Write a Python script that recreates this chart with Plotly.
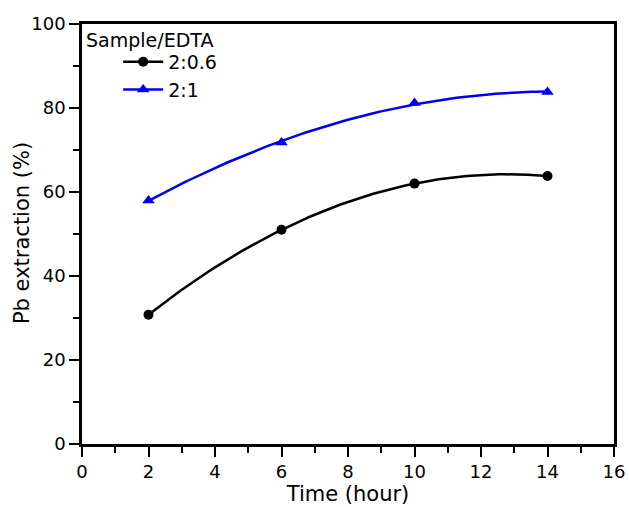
import numpy as np
import plotly.graph_objects as go

time_h = [2, 6, 10, 14]
pb_06 = [30.8, 51.0, 62.0, 63.8]
pb_1 = [58.0, 71.8, 81.2, 83.8]
series_names = ["2:0.6", "2:1"]
legend_title = "Sample/EDTA"
x_title = "Time (hour)"
y_title = "Pb extraction (%)"

FONT = "DejaVu Sans, Verdana, sans-serif"
fig = go.Figure()

xf = np.linspace(min(time_h), max(time_h), 100)
for ys, name, color, sym, msize in [
    (pb_06, series_names[0], "black", "circle", 10),
    (pb_1, series_names[1], "#0000ee", "triangle-up", 11),
]:
    coef = np.polyfit(time_h, ys, 2)
    fig.add_trace(go.Scatter(x=xf, y=np.polyval(coef, xf), mode="lines",
                             line=dict(color=color, width=2.5), showlegend=False,
                             hoverinfo="skip"))
    fig.add_trace(go.Scatter(x=time_h, y=ys, mode="markers",
                             marker=dict(color=color, symbol=sym, size=msize),
                             showlegend=False))
    fig.add_trace(go.Scatter(x=[None], y=[None], mode="lines+markers", name=name,
                             line=dict(color=color, width=2.5),
                             marker=dict(color=color, symbol=sym, size=msize)))

axis_common = dict(showline=True, linecolor="black", linewidth=2.5, mirror=True,
                   ticks="outside", ticklen=10, tickwidth=2, tickcolor="black",
                   showgrid=False, zeroline=False, automargin=False,
                   tickfont=dict(family=FONT, size=18, color="black"))

fig.update_xaxes(range=[0, 16], dtick=2, tick0=0,
                 minor=dict(ticks="outside", ticklen=6, tickwidth=2, dtick=1, tickcolor="black"),
                 title=dict(text=x_title, font=dict(family=FONT, size=21, color="black"), standoff=3),
                 **axis_common)
fig.update_yaxes(range=[0, 100], dtick=20, tick0=0,
                 minor=dict(ticks="outside", ticklen=6, tickwidth=2, dtick=10, tickcolor="black"),
                 **axis_common)

fig.add_annotation(text=y_title, xref="paper", yref="paper", x=-0.113, y=0.502,
                   xanchor="center", yanchor="middle", textangle=-90, showarrow=False,
                   font=dict(family=FONT, size=21, color="black"))

fig.add_annotation(text=legend_title, xref="paper", yref="paper", x=0.003, y=0.993,
                   xanchor="left", yanchor="top", showarrow=False,
                   font=dict(family=FONT, size=19, color="black"))

fig.update_layout(
    width=629, height=507,
    margin=dict(l=82, r=15, t=24, b=63),
    paper_bgcolor="white", plot_bgcolor="white",
    legend=dict(x=0.068, y=0.955, xanchor="left", yanchor="top",
                bgcolor="rgba(0,0,0,0)", font=dict(family=FONT, size=19, color="black"),
                tracegroupgap=0, itemwidth=40),
)

fig.write_html("out.html", config={"displayModeBar": False},
               post_script="document.body.style.margin='0';document.body.style.overflow='hidden';")
